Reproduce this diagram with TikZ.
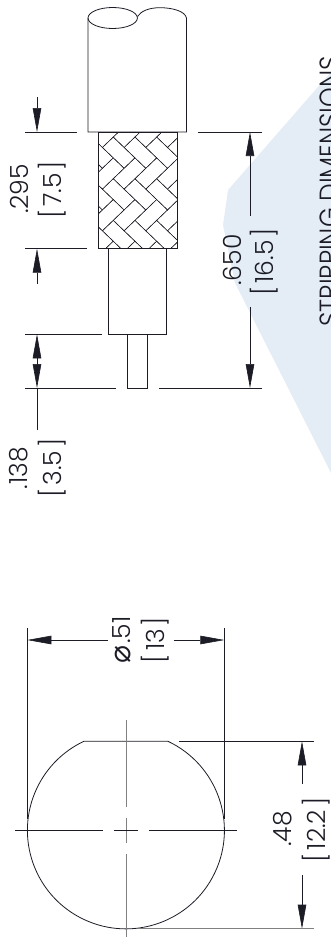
\documentclass[tikz,border=0pt]{standalone}
\usepackage{fontspec}
\usepackage{xcolor}
\usetikzlibrary{arrows.meta}
\newfontfamily\dimfont{Poppins Light}
\newfontfamily\symfont{DejaVu Sans}
\definecolor{inkcol}{HTML}{1C1C26}
\definecolor{markcol}{HTML}{E4EDF6}
\newcommand{\brk}[1]{[\hspace{3pt}#1\hspace{3pt}]}
\tikzstyle{part}=[draw=inkcol,line width=0.8pt]
\tikzstyle{thin}=[draw=inkcol,line width=0.6pt]
\tikzstyle{braid}=[draw=inkcol,line width=0.45pt]
\tikzstyle{centerline}=[draw=black!50,line width=0.9pt]
\tikzstyle{dimline}=[draw=inkcol,line width=0.6pt,-{Triangle[length=24pt,width=8.5pt]}]
\tikzstyle{dimtext}=[font=\dimfont\fontsize{25}{25}\selectfont,text=inkcol,rotate=90,inner sep=0pt]
\tikzstyle{marktext}=[font=\dimfont\fontsize{25}{25}\selectfont,text=inkcol,rotate=90,inner sep=0pt]

\begin{document}
\begin{tikzpicture}[x=1pt,y=-1pt]

  \useasboundingbox (0,0) rectangle (331,937);

  % background mark
  \fill[markcol] (331,72) -- (228,190) -- (223,225) -- (235,283) -- (331,473) -- cycle;
  \node[marktext,yscale=1.11] (title) at (330,191.5) {STRIPPING DIMENSIONS};

  % cable, side view
  \draw[part] (88,18) -- (88,132) -- (186.5,132) -- (186.5,18)
     .. controls (185,11) and (172,7.7) .. (160,7.7)
     .. controls (149,7.7) and (141,11) .. (137.5,16.5);
  \draw[part] (112.7,18) ellipse [x radius=24.7pt,y radius=10.5pt];

  \def\s{10.85};
  \def\ox{59};
  \def\oy{105.8};
  \begin{scope}
    \clip (98,132) rectangle (177,248.7);
    \foreach \i in {0,...,6}
      \foreach \j in {0,...,3}
      {
        \begin{scope}[shift={(\i*2*\s+\ox,\j*3.84*\s+\oy)},yscale=0.96]
        \draw[braid] (0,0) -- (2*\s,2*\s) -- (3*\s,\s) -- (\s,-\s) -- cycle;
        \draw[braid] (3*\s,\s) -- (4*\s,2*\s) -- (2*\s,4*\s) -- (\s,3*\s) -- cycle;
        \end{scope}
      }
  \end{scope}
  \draw[part] (98,132) rectangle (177,248.7);
  \draw[part] (108.5,248.7) rectangle (166,334);
  \draw[part] (127.5,334) rectangle (147.5,388);

  % extension lines
  \foreach \x/\y/\z/\name in {25/132/76.5/a, 25/248.7/86.5/b, 25/334/102/c, 25/388/116/d,
      198/132/262/e, 159/388/262/f}
    {
      \coordinate (\name1) at (\x,\y);
      \coordinate (\name2) at (\z,\y);
      \path[thin] (\name1) -- (\name2);
    }

  % dimension arrows
  \foreach \x/\y/\z/\name in {37/97/132/a, 37/284/248.7/b, 37/364/334.3/c, 37/364/388/d,
      250/216/132/e, 250/307/388/f, 302/784/741.3/j, 302/875/928.7/k}
    {
      \coordinate (\name s) at (\x,\y);
      \coordinate (\name t) at (\x,\z);
      \path[dimline] (\name s) -- (\name t);
    }
  \coordinate (tail) at (37,430);
  \path[thin] (dt) -- (tail);

  % round end view
  \coordinate (chordr) at (168,741.3);
  \coordinate (chordl) at (84,741.3);
  \draw[part] (chordr) arc [start angle=64.7,end angle=-244.7,radius=98.5pt] -- cycle;

  \coordinate (g1) at (27.3,628);
  \coordinate (g2) at (27.3,819);
  \coordinate (h1) at (224.3,628);
  \coordinate (h2) at (224.3,819);
  \path[part] (g1) -- (g2);
  \path[part] (h1) -- (h2);
  \coordinate (w1) at (108,640);
  \coordinate (w2) at (27.3,640);
  \coordinate (w3) at (173.7,640);
  \coordinate (w4) at (224.3,640);
  \path[dimline] (w1) -- (w2);
  \path[dimline] (w3) -- (w4);

  \coordinate (m1) at (179.3,741.3);
  \coordinate (m2) at (314,741.3);
  \coordinate (m3) at (138,928.7);
  \coordinate (m4) at (314,928.7);
  \path[thin] (m1) -- (m2);
  \path[centerline] (m3) -- (m4);

  % center lines
  \foreach \y/\z/\name in {720/806.7/v1, 818/842.7/v2, 854/937/v3}
    {
      \coordinate (\name a) at (126,\y);
      \coordinate (\name b) at (126,\z);
      \path[centerline] (\name a) -- (\name b);
    }
  \foreach \x/\z/\name in {15/102.7/u1, 114/138/u2, 149/236.7/u3}
    {
      \coordinate (\name a) at (\x,830.3);
      \coordinate (\name b) at (\z,830.3);
      \path[thin] (\name a) -- (\name b);
    }

  % labels
  \foreach \x/\y/\name/\label in {19/189/t1/.295, 52/190/t2/{\brk{7.5}}, 19/468/t3/.138, 52/468/t4/{\brk{3.5}},
      232/260/t5/.650, 264/262/t6/{\brk{16.5}}, 155/640/t7/{\brk{13}}, 283/829/t8/.48, 316/830/t9/{\brk{12.2}}}
    \node[dimtext] (\name) at (\x,\y) {\label};
  \node[dimtext] (t10) at (122,640) {{\symfont\fontsize{30}{30}\selectfont ⌀}\hspace{2pt}.51};

\end{tikzpicture}
\end{document}
